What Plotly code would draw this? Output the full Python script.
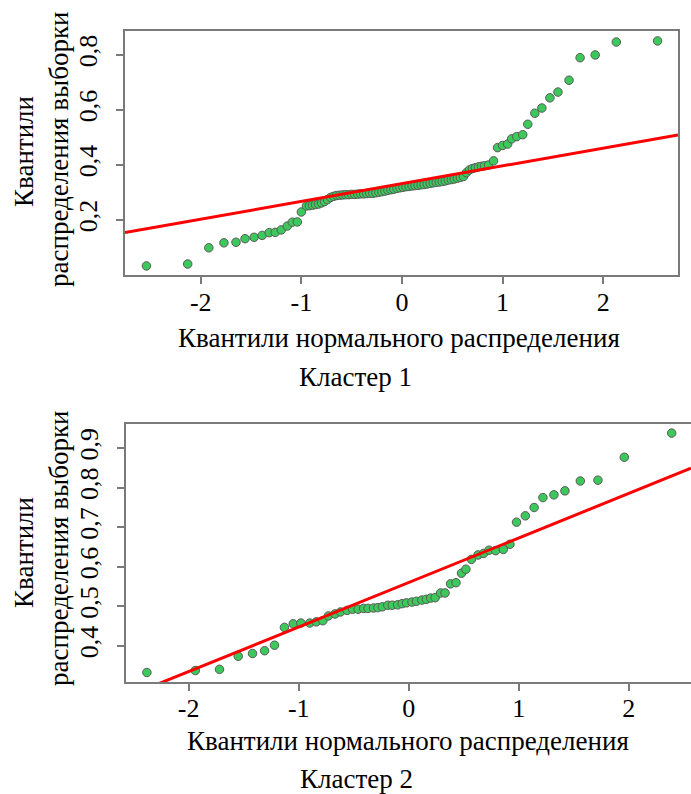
import plotly.graph_objects as go

W, H = 691, 794

# ---------------- Cluster 1 data ----------------
c1_x = [-2.54, -2.13, -1.92, -1.77, -1.65, -1.56, -1.47, -1.39, -1.32, -1.26,
        -1.20, -1.14, -1.09, -1.04, -1.00,
        -0.95, -0.92, -0.89, -0.86, -0.83, -0.80, -0.77, -0.74, -0.71, -0.68,
        -0.65, -0.62, -0.59, -0.56, -0.53, -0.50, -0.47, -0.44, -0.41, -0.38,
        -0.35, -0.32, -0.29, -0.26, -0.23, -0.20, -0.17, -0.14, -0.11, -0.08,
        -0.05, -0.02, 0.01, 0.04, 0.07, 0.10, 0.13, 0.16, 0.19, 0.22,
        0.25, 0.28, 0.31, 0.34, 0.37, 0.40, 0.43, 0.46, 0.49, 0.52,
        0.55, 0.58, 0.61, 0.64, 0.67, 0.70, 0.73, 0.76, 0.79, 0.82,
        0.86, 0.91, 0.95, 1.00, 1.05, 1.09, 1.14, 1.20, 1.25, 1.32,
        1.39, 1.47, 1.55, 1.66, 1.77, 1.92, 2.13, 2.54]
c1_y = [0.033, 0.040, 0.099, 0.117, 0.119, 0.132, 0.137, 0.144, 0.154, 0.155,
        0.164, 0.178, 0.192, 0.193, 0.229,
        0.251, 0.252, 0.254, 0.256, 0.258, 0.262, 0.267, 0.274, 0.282, 0.286,
        0.289, 0.290, 0.291, 0.292, 0.292, 0.293, 0.293, 0.294, 0.295, 0.295,
        0.296, 0.297, 0.297, 0.299, 0.301, 0.303, 0.305, 0.308, 0.310, 0.312,
        0.315, 0.317, 0.319, 0.321, 0.322, 0.324, 0.325, 0.326, 0.328, 0.329,
        0.331, 0.333, 0.335, 0.337, 0.338, 0.340, 0.342, 0.345, 0.347, 0.349,
        0.352, 0.355, 0.358, 0.372, 0.382, 0.387, 0.390, 0.393, 0.395, 0.397,
        0.400, 0.415, 0.463, 0.471, 0.476, 0.495, 0.503, 0.510, 0.548, 0.588,
        0.607, 0.644, 0.665, 0.708, 0.790, 0.800, 0.847, 0.851]
c1_line = {"intercept": 0.332, "slope": 0.0646}
c1_xrange = [-2.753, 2.743]
c1_yrange = [0.0, 0.887]
c1_yticks = [0.2, 0.4, 0.6, 0.8]
c1_yticktext = ["0,2", "0,4", "0,6", "0,8"]

# ---------------- Cluster 2 data ----------------
c2_x = [-2.38, -1.94, -1.72, -1.55, -1.42, -1.31, -1.22, -1.13, -1.05, -0.98,
        -0.90, -0.84, -0.78, -0.73, -0.67, -0.62, -0.56, -0.51, -0.46, -0.41,
        -0.37, -0.32, -0.28, -0.24, -0.19, -0.15, -0.10, -0.06, -0.02, 0.03,
        0.07, 0.12, 0.16, 0.20, 0.24, 0.29, 0.33, 0.38, 0.43, 0.48,
        0.52, 0.57, 0.63, 0.68, 0.73, 0.79, 0.86, 0.92, 0.98, 1.06,
        1.14, 1.22, 1.32, 1.42, 1.56, 1.72, 1.96, 2.39]
c2_y = [0.333, 0.338, 0.341, 0.374, 0.381, 0.388, 0.402, 0.447, 0.456, 0.458,
        0.458, 0.461, 0.464, 0.476, 0.481, 0.486, 0.490, 0.493, 0.493, 0.495,
        0.495, 0.496, 0.497, 0.499, 0.503, 0.503, 0.504, 0.507, 0.509, 0.511,
        0.513, 0.516, 0.518, 0.521, 0.522, 0.534, 0.534, 0.557, 0.560, 0.584,
        0.594, 0.619, 0.630, 0.634, 0.642, 0.641, 0.644, 0.657, 0.713, 0.729,
        0.750, 0.775, 0.782, 0.792, 0.817, 0.819, 0.877, 0.938]
c2_line = {"intercept": 0.5605, "slope": 0.1125}
c2_xrange = [-2.57, 2.566]
c2_yrange = [0.309, 0.961]
c2_yticks = [0.4, 0.5, 0.6, 0.7, 0.8, 0.9]
c2_yticktext = ["0,4", "0,5", "0,6", "0,7", "0,8", "0,9"]

x_ticks = [-2, -1, 0, 1, 2]
x_ticktext = ["-2", "-1", "0", "1", "2"]

x_title = "Квантили нормального распределения"
y_title_1 = "Квантили"
y_title_2 = "распределения выборки"
cluster_titles = ["Кластер 1", "Кластер 2"]

FONT = "Liberation Serif, Times New Roman, serif"
FS_TICK = 26
FS_TITLE = 27
FRAME = "#7a7a7a"
GREEN = "#3cc85a"

fig = go.Figure()

def px_x(p):
    return p / W

def px_y(p):
    return 1 - p / H

def add_panel(xs, ys, line, xr, xa, ya):
    fig.add_trace(go.Scatter(
        x=xs, y=ys, mode="markers", xaxis=xa, yaxis=ya,
        marker=dict(size=8.5, color=GREEN, line=dict(color="#5a5a5a", width=1)),
        showlegend=False, hoverinfo="skip"))
    lx = list(xr)
    ly = [line["intercept"] + line["slope"] * v for v in lx]
    fig.add_trace(go.Scatter(
        x=lx, y=ly, mode="lines", xaxis=xa, yaxis=ya,
        line=dict(color="#ff0000", width=3),
        showlegend=False, hoverinfo="skip"))

add_panel(c1_x, c1_y, c1_line, c1_xrange, "x", "y")
add_panel(c2_x, c2_y, c2_line, c2_xrange, "x2", "y2")

axis_common = dict(
    showgrid=False, zeroline=False, showline=True, linecolor=FRAME, linewidth=1.5,
    ticks="outside", ticklen=7, tickwidth=1.5, tickcolor=FRAME,
    tickfont=dict(family=FONT, size=FS_TICK, color="black"),
)

fig.update_layout(
    width=W, height=H,
    margin=dict(l=0, r=0, t=0, b=0),
    paper_bgcolor="white", plot_bgcolor="white",
    font=dict(family=FONT, size=FS_TICK, color="black"),
    xaxis=dict(domain=[px_x(125), px_x(678)], range=c1_xrange, anchor="y",
               tickvals=x_ticks, ticktext=x_ticktext, mirror=True,
               ticklabelstandoff=-4, **axis_common),
    yaxis=dict(domain=[px_y(275), px_y(31)], range=c1_yrange, anchor="x",
               tickvals=c1_yticks, ticktext=c1_yticktext, tickangle=-90,
               mirror=True, ticklabelstandoff=9, **axis_common),
    xaxis2=dict(domain=[px_x(126), 1.0], range=c2_xrange, anchor="y2",
                tickvals=x_ticks, ticktext=x_ticktext, mirror=True,
                ticklabelstandoff=-5, **axis_common),
    yaxis2=dict(domain=[px_y(682), px_y(424)], range=c2_yrange, anchor="x2",
                tickvals=c2_yticks, ticktext=c2_yticktext, tickangle=-90,
                mirror=False, ticklabelstandoff=9, **axis_common),
)

def ann(text, x, y, angle=0):
    fig.add_annotation(text=text, x=px_x(x), y=px_y(y), xref="paper", yref="paper",
                       showarrow=False, textangle=angle,
                       font=dict(family=FONT, size=FS_TITLE, color="black"),
                       xanchor="center", yanchor="middle")

# Panel 1 texts
ann(x_title, 399, 338)
ann(cluster_titles[0], 355, 377)
ann(y_title_1, 24, 152, -90)
ann(y_title_2, 59, 150, -90)
# Panel 2 texts
ann(x_title, 408, 741)
ann(cluster_titles[1], 356, 779)
ann(y_title_1, 24, 553, -90)
ann(y_title_2, 59, 549, -90)

fig.write_html("out.html", config={"displayModeBar": False},
               post_script="document.body.style.margin='0';")
